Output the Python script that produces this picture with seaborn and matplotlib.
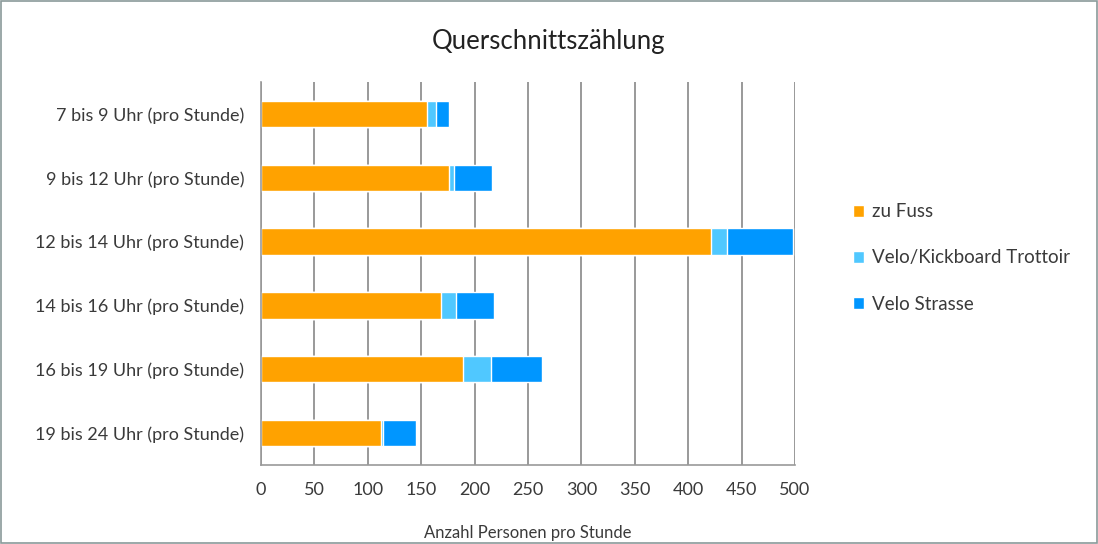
import numpy as np
import pandas as pd
import matplotlib
matplotlib.use("Agg")
import matplotlib.pyplot as plt
import seaborn as sns
from matplotlib.patches import Patch, Rectangle

# data
zeiten = ["7 bis 9 Uhr (pro Stunde)", "9 bis 12 Uhr (pro Stunde)",
          "12 bis 14 Uhr (pro Stunde)", "14 bis 16 Uhr (pro Stunde)",
          "16 bis 19 Uhr (pro Stunde)", "19 bis 24 Uhr (pro Stunde)"]
zu_fuss = [155, 176, 421, 169, 189, 112]
trottoir = [9, 5, 15, 14, 26, 2]
strasse = [12, 35, 62, 35, 48, 31]

serien = ["zu Fuss", "Velo/Kickboard Trottoir", "Velo Strasse"]
farben = ["#FFA200", "#50C8FF", "#0096FF"]

sns.set_style("white")
plt.rcParams["font.family"] = ["Lato", "DejaVu Sans"]
text_col = "#3a3a3a"

df = pd.DataFrame({"zeit": zeiten, "zu Fuss": zu_fuss,
                   "Velo/Kickboard Trottoir": trottoir, "Velo Strasse": strasse})
# cumulative sums for stacking
df["c1"] = df["zu Fuss"]
df["c2"] = df["c1"] + df["Velo/Kickboard Trottoir"]
df["c3"] = df["c2"] + df["Velo Strasse"]

fig = plt.figure(figsize=(10.98, 5.44), dpi=100)
ax = fig.add_axes([261/1098, 1-465/544, (795-261)/1098, (465-82)/544])

ax.set_axisbelow(True)
ax.xaxis.grid(True, color="#999999", linewidth=1.4)
for col, c in zip(["c3", "c2", "c1"], farben[::-1]):
    sns.barplot(data=df, y="zeit", x=col, color=c, orient="h", width=0.41,
                ax=ax, saturation=1)

ax.set_xlim(0, 500)
ax.set_ylim(5.5, -0.5)
ax.set_xticks(np.arange(0, 501, 50))
ax.set_yticks(np.arange(6))
ax.set_yticklabels(zeiten)
ax.set_yticks(np.arange(-0.5, 6, 1), minor=True)
ax.tick_params(axis="y", which="major", length=0, pad=12, labelsize=13, labelcolor=text_col)
ax.tick_params(axis="y", which="minor", length=5, color="#999999", direction="out")
ax.tick_params(axis="x", length=8, color="#999999", direction="inout", labelsize=13,
               labelcolor=text_col, pad=8)
ax.set_ylabel("")
ax.set_xlabel("Anzahl Personen pro Stunde", fontsize=12, color=text_col, labelpad=20)
for s in ["top", "right"]:
    ax.spines[s].set_visible(False)
for s in ["left", "bottom"]:
    ax.spines[s].set_color("#999999")
    ax.spines[s].set_linewidth(1.2)

fig.suptitle("Querschnittszählung", x=0.5, y=1-42/544, va="center",
             fontsize=18.5, color="#222222")

handles = [Patch(facecolor=c, label=s) for s, c in zip(serien, farben)]
fig.legend(handles=handles, loc="center left", bbox_to_anchor=(836/1098, 1-258/544),
           frameon=False, fontsize=13.5, handlelength=0.6, handleheight=0.6,
           handletextpad=0.4, labelspacing=1.55, labelcolor=text_col)

fig.patches.append(Rectangle((0.001, 0.001), 0.998, 0.998, transform=fig.transFigure,
                             fill=False, edgecolor="#8a9a9a", linewidth=1.2))

fig.savefig("out.png", dpi=100)
